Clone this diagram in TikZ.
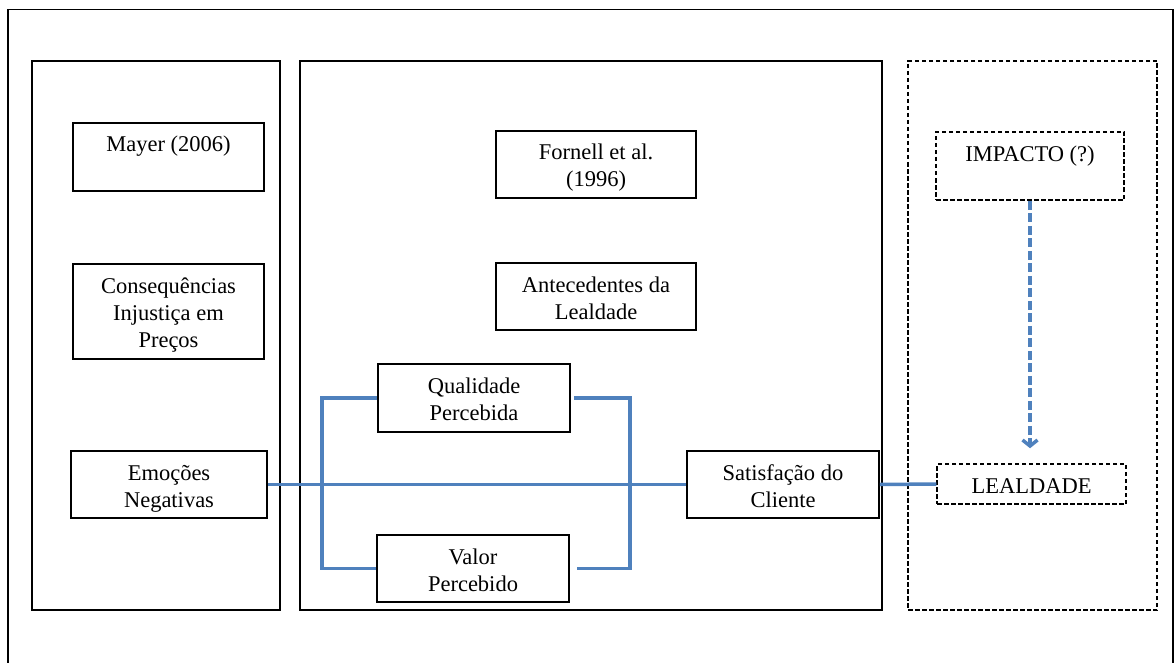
\documentclass[tikz,border=0pt]{standalone}
\usepackage{fontspec}
\setmainfont{Liberation Serif}
\usetikzlibrary{arrows.meta,calc}
\definecolor{linkblue}{HTML}{4F81BD}
% box text: fixed width and height, text set from the top
\newcommand{\boxtext}[3]{\parbox[c][#2][t]{#1}{\centering\rule{0pt}{29pt}#3}}
\begin{document}
\begin{tikzpicture}[x=1pt,y=-1pt,
  every node/.style={font=\fontsize{22.5}{27}\selectfont},
  frame/.style={draw, line width=1.5pt, inner sep=0pt},
  dframe/.style={frame, dash pattern=on 4.5pt off 2.5pt},
  stage/.style={draw, line width=1.4pt, inner sep=0pt},
  dstage/.style={stage, dash pattern=on 4.5pt off 2.5pt},
  conn/.style={draw=linkblue, line width=3.5pt},
  dconn/.style={conn, dash pattern=on 9pt off 3.5pt}]
\useasboundingbox (0,0) rectangle (1174,663);

% outer frame (open at the bottom edge)
\draw[line width=1.4pt] (8,670) -- (8,9.5) -- (1173,9.5) -- (1173,670);

% three panels
\node[stage, minimum width=248pt, minimum height=549pt] (pleft) at (156,335.5) {};
\node[stage, minimum width=582pt, minimum height=549pt] (pmid) at (591,335.5) {};
\node[dstage, minimum width=249pt, minimum height=549pt] (pright) at (1032.5,335.5) {};

% left panel
\node[frame] (mayer) at (168.5,157) {\boxtext{191pt}{68pt}{Mayer (2006)}};
\node[frame] (consq) at (168.5,311.5) {\boxtext{191pt}{95pt}{Consequências\\Injustiça em\\Preços}};
\node[frame] (emoc) at (169,484.5) {\boxtext{196pt}{67pt}{Emoções\\Negativas}};

% middle panel
\node[frame] (fornell) at (596,164.5) {\boxtext{200pt}{67pt}{Fornell et al.\\(1996)}};
\node[frame] (antec) at (596,296.5) {\boxtext{200pt}{67pt}{Antecedentes da\\Lealdade}};
\node[frame] (qual) at (474,398) {\boxtext{192pt}{68pt}{Qualidade\\Percebida}};
\node[frame] (valor) at (473,568.5) {\boxtext{192pt}{67pt}{Valor\\Percebido}};
\node[frame] (satis) at (783,484.5) {\boxtext{192pt}{67pt}{Satisfação do\\Cliente}};

% right panel
\node[dframe] (imp) at (1030,166) {\boxtext{188pt}{68pt}{IMPACTO (?)}};
\node[dframe] (leal) at (1031.5,484) {\boxtext{189pt}{40pt}{LEALDADE}};

% connectors
\coordinate (lj) at (322,484.5);
\coordinate (rj) at (630,484.5);
\coordinate (tip) at ($(imp.south |- leal.north)+(0,-15)$);

\draw[conn] (emoc.east) -- (satis.west);
\draw[conn] (qual.west) -| (lj) |- (valor.west);
\draw[conn] ([xshift=3pt]qual.east) -| (rj) |- ([xshift=7pt]valor.east);
\draw[conn] (satis.east) -- (leal.west);
\draw[dconn, -{Straight Barb[length=6pt,width=15pt]}] (imp.south) -- (tip);
\end{tikzpicture}
\end{document}
